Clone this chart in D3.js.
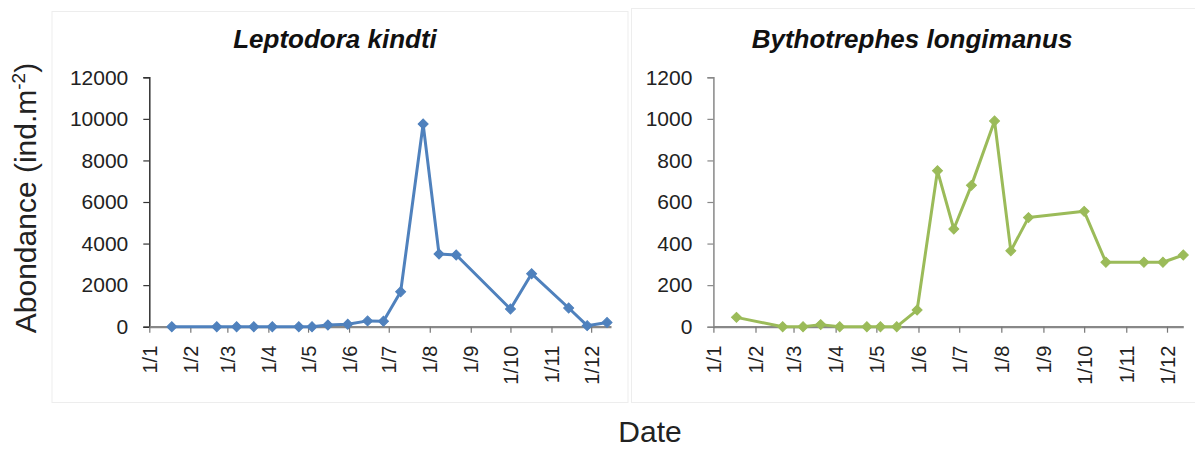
<!DOCTYPE html>
<html>
<head>
<meta charset="utf-8">
<script src="https://cdn.jsdelivr.net/npm/d3@7"></script>
<style>
  html, body { margin: 0; padding: 0; background: #fff; }
  svg { display: block; font-family: "Liberation Sans", Arial, sans-serif; }
</style>
</head>
<body>
<svg id="chart" width="1195" height="450"></svg>
<script>
// ---- data ----
const sampleDates = ["2010-01-18","2010-02-21","2010-03-08","2010-03-21","2010-04-04","2010-04-24",
  "2010-05-04","2010-05-16","2010-05-31","2010-06-15","2010-06-27","2010-07-10","2010-07-27",
  "2010-08-08","2010-08-21","2010-10-01","2010-10-17","2010-11-14","2010-11-28","2010-12-13"];
const leptodora = [0,0,0,0,0,0,0,80,120,280,260,1680,9750,3500,3450,850,2550,900,50,200];
const bythotrephes = [45,0,0,10,0,0,0,0,80,750,470,680,990,365,525,555,310,310,310,345];
const monthTickLabels = ["1/1","1/2","1/3","1/4","1/5","1/6","1/7","1/8","1/9","1/10","1/11","1/12"];
const leftYTicks = [0,2000,4000,6000,8000,10000,12000];
const rightYTicks = [0,200,400,600,800,1000,1200];
const titles = ["Leptodora kindti", "Bythotrephes longimanus"];

const parse = d3.utcParse("%Y-%m-%d");
const dates = sampleDates.map(parse);
const tickDates = monthTickLabels.map(s => { const [d, m] = s.split("/"); return new Date(Date.UTC(2010, +m - 1, +d)); });

const svg = d3.select("#chart");

// faint panel borders
svg.append("rect").attr("x", 52).attr("y", 11.5).attr("width", 576).attr("height", 391)
  .attr("fill", "none").attr("stroke", "#ededed");
svg.append("rect").attr("x", 631.5).attr("y", 8.5).attr("width", 570).attr("height", 394)
  .attr("fill", "none").attr("stroke", "#ededed");

function panel(cfg) {
  const x = d3.scaleUtc().domain([new Date(Date.UTC(2010,0,1)), cfg.xEnd]).range(cfg.xr);
  const y = d3.scaleLinear().domain([0, cfg.yMax]).range([326.7, 77.3]);
  const g = svg.append("g");

  // y axis
  const ya = g.append("g").attr("transform", `translate(${cfg.xr[0]},0)`)
    .call(d3.axisLeft(y).tickValues(cfg.yTicks).tickSize(6).tickPadding(15).tickFormat(d3.format("d")));
  ya.select(".domain").attr("stroke", cfg.yAxisColor).attr("stroke-width", 1.5);
  ya.selectAll(".tick line").attr("stroke", cfg.yAxisColor).attr("stroke-width", 1.2);
  ya.selectAll(".tick text").attr("font-size", 21).attr("fill", "#222")
    .attr("font-family", "'Liberation Sans', Arial, sans-serif");

  // x axis
  const xa = g.append("g").attr("transform", `translate(0,${y(0)})`)
    .call(d3.axisBottom(x).tickValues(tickDates).tickSize(6).tickSizeOuter(0)
      .tickFormat((d, i) => monthTickLabels[i]));
  xa.select(".domain").attr("stroke", "#888").attr("stroke-width", 2.2);
  xa.selectAll(".tick line").attr("stroke", "#777").attr("stroke-width", 1.2);
  xa.selectAll(".tick text")
    .attr("font-size", 20).attr("fill", "#222")
    .attr("font-family", "'Liberation Sans', Arial, sans-serif")
    .attr("text-anchor", "end")
    .attr("transform", "translate(0,19) rotate(-90)")
    .attr("x", 0).attr("y", 0).attr("dy", "0.36em");

  // line
  const line = d3.line().x((d, i) => x(dates[i])).y(d => y(d));
  g.append("path").datum(cfg.values).attr("fill", "none").attr("stroke", cfg.color)
    .attr("stroke-width", 3).attr("stroke-linejoin", "round").attr("d", line);

  // markers
  const sym = d3.symbol().type(d3.symbolSquare).size(50);
  g.selectAll("path.mk").data(cfg.values).join("path").attr("class", "mk")
    .attr("d", sym)
    .attr("transform", (d, i) => `translate(${x(dates[i])},${y(d)}) rotate(45)`)
    .attr("fill", cfg.color).attr("stroke", cfg.color).attr("stroke-width", 1);

  // title
  g.append("text").attr("x", cfg.titleX).attr("y", 48).attr("text-anchor", "middle")
    .attr("font-size", 26).attr("font-weight", "bold").attr("font-style", "italic")
    .attr("fill", "#111").text(cfg.title);
}

panel({ xr: [149.3, 611], xEnd: new Date(Date.UTC(2010,11,16)), yMax: 12000, yTicks: leftYTicks,
  values: leptodora, color: "#4f81bd", title: titles[0], titleX: 335, yAxisColor: "#333" });
panel({ xr: [713.4, 1183.3], xEnd: new Date(Date.UTC(2010,11,13)), yMax: 1200, yTicks: rightYTicks,
  values: bythotrephes, color: "#9bbb59", title: titles[1], titleX: 912, yAxisColor: "#888" });

// axis titles
const yt = svg.append("text").attr("transform", "translate(36,198) rotate(-90)")
  .attr("text-anchor", "middle").attr("font-size", 30).attr("fill", "#222");
yt.append("tspan").text("Abondance (ind.m");
yt.append("tspan").attr("font-size", 19).attr("dy", -11).text("-2");
yt.append("tspan").attr("dy", 11).text(")");

svg.append("text").attr("x", 650).attr("y", 442).attr("text-anchor", "middle")
  .attr("font-size", 30).attr("fill", "#222").text("Date");
</script>
</body>
</html>
